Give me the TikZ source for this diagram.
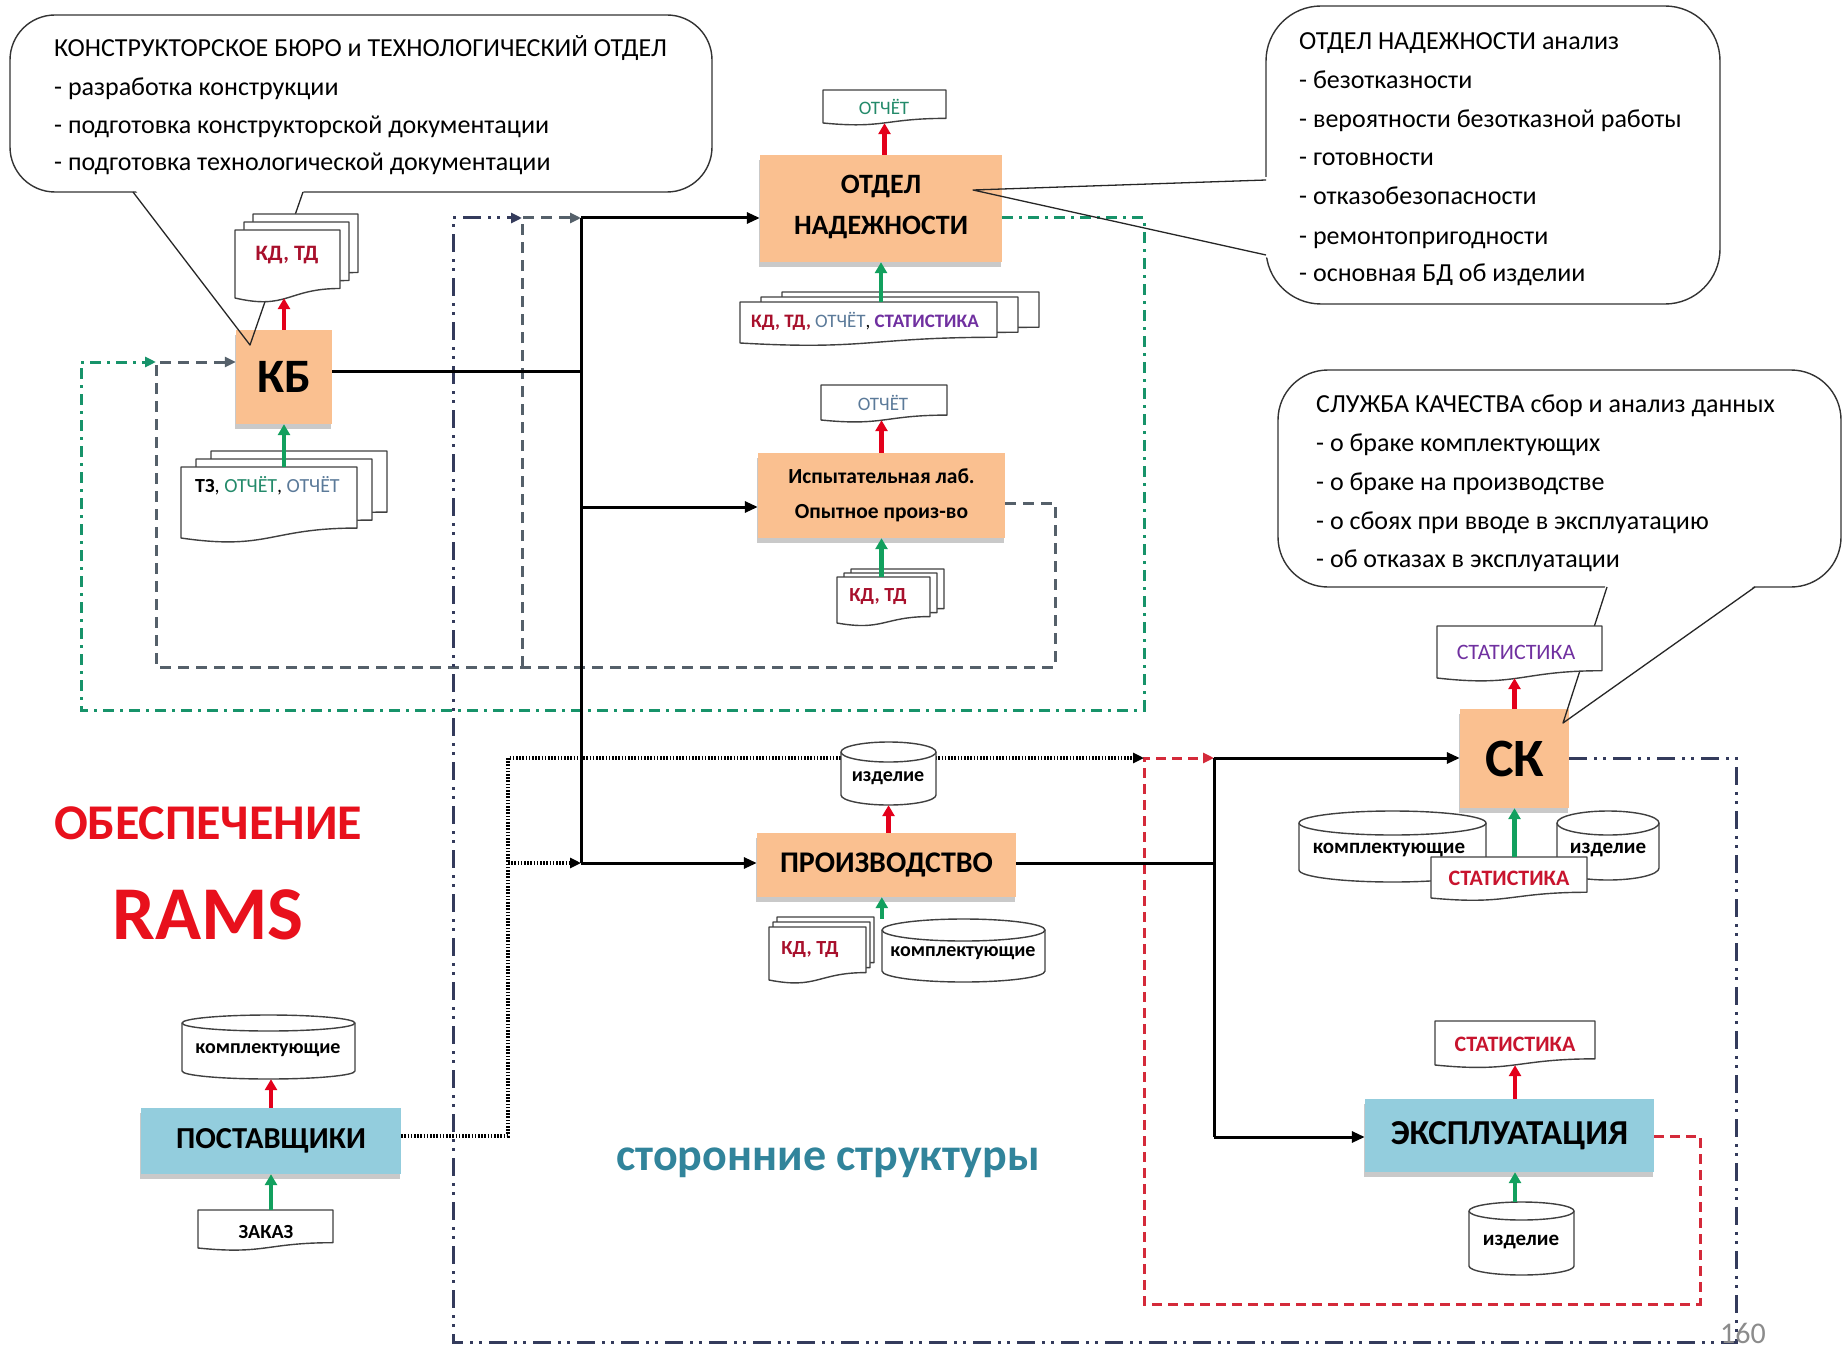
\documentclass[tikz,border=0pt]{standalone}
\usepackage{fontspec}
\setmainfont{Carlito}
\usetikzlibrary{arrows.meta,shadows}

\definecolor{boxorange}{HTML}{FAC090}
\definecolor{boxblue}{HTML}{93CDDD}
\definecolor{docred}{HTML}{A8102C}
\definecolor{statred}{HTML}{C8142E}
\definecolor{statpurple}{HTML}{7030A0}
\definecolor{repgreen}{HTML}{238A6A}
\definecolor{repblue}{HTML}{5B7A99}
\definecolor{arrred}{HTML}{E3001B}
\definecolor{arrgreen}{HTML}{12A05E}
\definecolor{loopgreen}{HTML}{17936A}
\definecolor{loopgray}{HTML}{55606A}
\definecolor{loopnavy}{HTML}{343B5C}
\definecolor{loopred}{HTML}{D42A3A}
\definecolor{titlered}{HTML}{E8101C}
\definecolor{outerteal}{HTML}{31849B}

\newcommand\fsz[1]{\fontsize{#1pt}{#1pt}\selectfont}

\pgfdeclarelayer{bg}
\pgfdeclarelayer{conn}
\pgfsetlayers{bg,conn,main}

% document symbol with a wavy lower edge
\newcommand\docshape[4]{%
  \pgfmathsetmacro\dR{#2+0.86*(#4-#2)}%
  \pgfmathsetmacro\dC{#2+1.18*(#4-#2)}%
  \pgfmathsetmacro\dM{(#1+#3)/2}%
  \filldraw[docline] (#1,#2) -- (#3,#2) -- (#3,\dR)
    .. controls (\dM,\dR) and (\dM,\dC) .. (#1,#4) -- cycle;}
\newcommand\docnode[5]{%
  \docshape{#2}{#3}{#4}{#5}%
  \pgfmathsetmacro\dW{#4-#2}\pgfmathsetmacro\dH{#5-#3}%
  \node[inner sep=0pt, minimum width=\dW pt, minimum height=\dH pt] (#1)
    at ({(#2+#4)/2},{(#3+#5)/2}) {};}
\newcommand\docstack[7]{%
  \begin{scope}[shift={(2*#6,2*#7)}]\docshape{#2}{#3}{#4}{#5}\end{scope}%
  \begin{scope}[shift={(#6,#7)}]\docshape{#2}{#3}{#4}{#5}\end{scope}%
  \docnode{#1}{#2}{#3}{#4}{#5}}
% storage cylinder
\newcommand\cylnode[6]{%
  \pgfmathsetmacro\cR{(#4-#2)/2}%
  \filldraw[docline] (#2,#3+#6) -- (#2,#5-#6)
    arc[start angle=180, end angle=360, x radius=\cR pt, y radius=#6 pt]
    -- (#4,#3+#6)
    arc[start angle=0, end angle=180, x radius=\cR pt, y radius=#6 pt] -- cycle;
  \draw[docline, fill=none] (#2,#3+#6)
    arc[start angle=180, end angle=360, x radius=\cR pt, y radius=#6 pt];
  \pgfmathsetmacro\dW{#4-#2}\pgfmathsetmacro\dH{#5-#3}%
  \node[inner sep=0pt, minimum width=\dW pt, minimum height=\dH pt] (#1)
    at ({(#2+#4)/2},{(#3+#5)/2}) {};}

\tikzset{
  proc/.style={fill=boxorange, inner sep=0pt, align=center, font=\bfseries,
    drop shadow={shadow xshift=-1pt, shadow yshift=-5pt, fill=black!35, opacity=0.6}},
  bluebox/.style={proc, fill=boxblue},
  docline/.style={draw=black!75, line width=1.4pt, fill=white},
  notebox/.style={draw=black!80, line width=1.4pt, fill=white, rounded corners=45pt, inner sep=0pt},
  pointer/.style={draw=black!85, line width=1.3pt},
  note/.style={anchor=west, inner sep=0pt, font=\fsz{26}, text height=16pt, text depth=0pt},
  dtext/.style={inner sep=0pt, font=\fsz{20}},
  conn/.style={line width=3pt, draw=black},
  tip/.style={-{Triangle[length=13pt,width=11pt]}},
  ltip/.style={-{Triangle[length=11pt,width=10pt]}},
  dotconn/.style={line width=3.4pt, draw=black, dash pattern=on 1.6pt off 1.6pt},
  greenloop/.style={line width=3pt, draw=loopgreen, dash pattern=on 11pt off 6pt on 3pt off 6pt},
  grayloop/.style={line width=3pt, draw=loopgray, dash pattern=on 11pt off 7pt},
  navyloop/.style={line width=3pt, draw=loopnavy, dash pattern=on 18pt off 7pt on 3pt off 6pt on 3pt off 7pt},
  redloop/.style={line width=3pt, draw=loopred, dash pattern=on 10pt off 6pt},
  redup/.style={draw=arrred, line width=4.5pt, -{Triangle[length=11pt,width=12pt]}},
  greenup/.style={draw=arrgreen, line width=4.5pt, -{Triangle[length=11pt,width=12pt]}},
}

\begin{document}
\begin{tikzpicture}[x=1pt, y=-1pt, line join=round]
\useasboundingbox (0,0) rectangle (1843,1348);

% ---------- callout bodies ----------
\begin{pgfonlayer}{bg}
  \fill[white] (0,0) rectangle (1843,1348);
  \node[notebox, minimum width=702pt, minimum height=177pt] (kbnote) at (361,103.5) {};
  \fill[white] (133,187) -- (250,345) -- (305,187) -- cycle;
  \node[notebox, rounded corners=55pt, minimum width=454pt, minimum height=298pt] (onnote) at (1493,155) {};
  \fill[white] (1269,177) -- (973,190) -- (1269,258) -- cycle;
  \begin{scope}
    \clip (0,0) rectangle (1843,1348);
    \node[notebox, rounded corners=50pt, minimum width=563pt, minimum height=217pt] (sknote) at (1559.5,478.5) {};
  \end{scope}
  \fill[white] (1606,584) -- (1563,723) -- (1757,584) -- cycle;
\end{pgfonlayer}

% ---------- callout texts ----------
\node[note] (kbn1) at (54,49) {КОНСТРУКТОРСКОЕ БЮРО и ТЕХНОЛОГИЧЕСКИЙ ОТДЕЛ};
\node[note] (kbn2) at (54,88) {- разработка конструкции};
\node[note] (kbn3) at (54,126) {- подготовка конструкторской документации};
\node[note] (kbn4) at (54,163) {- подготовка технологической документации};

\node[note] (onn1) at (1299,42) {ОТДЕЛ НАДЕЖНОСТИ анализ};
\node[note] (onn2) at (1299,81) {- безотказности};
\node[note] (onn3) at (1299,120) {- вероятности безотказной работы};
\node[note] (onn4) at (1299,158) {- готовности};
\node[note] (onn5) at (1299,197) {- отказобезопасности};
\node[note] (onn6) at (1299,236) {- ремонтопригодности};
\node[note] (onn7) at (1299,273) {- основная БД об изделии};

\node[note] (skn1) at (1316,404) {СЛУЖБА КАЧЕСТВА сбор и анализ данных};
\node[note] (skn2) at (1316,443) {- о браке комплектующих};
\node[note] (skn3) at (1316,482) {- о браке на производстве};
\node[note] (skn4) at (1316,521) {- о сбоях при вводе в эксплуатацию};
\node[note] (skn5) at (1316,559) {- об отказах в эксплуатации};

% ---------- process boxes ----------
\node[proc, minimum width=96pt, minimum height=94pt, font=\bfseries\fsz{48}] (KB) at (284,377) {КБ};
\node[proc, minimum width=242pt, minimum height=107pt, font=\bfseries\fontsize{28pt}{41pt}\selectfont] (ON) at (881,208.5) {ОТДЕЛ\\НАДЕЖНОСТИ\rule[-7pt]{0pt}{1pt}};
\node[proc, minimum width=247pt, minimum height=85pt, font=\bfseries\fontsize{21.5pt}{35pt}\selectfont] (IL) at (881.5,495.5) {Испытательная лаб.\\Опытное произ-во};
\node[proc, minimum width=259pt, minimum height=64pt, font=\bfseries\fsz{30}] (PR) at (886.5,865) {ПРОИЗВОДСТВО};
\node[proc, minimum width=109pt, minimum height=99pt, font=\bfseries\fsz{54}] (SK) at (1514.5,758.5) {СК};
\node[bluebox, minimum width=289pt, minimum height=73pt, font=\bfseries\fsz{35}] (EX) at (1509.5,1135.5) {ЭКСПЛУАТАЦИЯ};
\node[bluebox, minimum width=260pt, minimum height=66pt, font=\bfseries\fsz{30.5}] (PS) at (271,1141) {ПОСТАВЩИКИ};

% ---------- callout pointers ----------
\draw[pointer] (133,192) -- (250,345) -- (303,192);
\draw[pointer] (1266,180) -- (973,190) -- (1266,255);
\draw[pointer] (1607,587) -- (1563,723) -- (1755,587);

% ---------- junctions ----------
\coordinate (bT) at (581,218);
\coordinate (bK) at (581,371);
\coordinate (bI) at (581,507);
\coordinate (bP) at (581,863);
\coordinate (rT) at (1214,758);
\coordinate (rP) at (1214,863);
\coordinate (rE) at (1214,1137);
\coordinate (dA) at (508,1136);
\coordinate (dT) at (508,758);
\coordinate (dP) at (508,863);
\coordinate (rdJ) at (1144,758);
\coordinate (rd1) at (1700,1136);
\coordinate (rd2) at (1700,1304);
\coordinate (rd3) at (1144,1304);
\coordinate (nv1) at (1736,758);
\coordinate (nv2) at (1736,1342);
\coordinate (nv3) at (453,1342);
\coordinate (nv4) at (453,218);
\coordinate (nvJ) at (522,218);
\coordinate (gy1) at (1055,503);
\coordinate (gy2) at (1055,667);
\coordinate (gy3) at (156,667);
\coordinate (gyJ) at (156,362);
\coordinate (gyB) at (522,667);
\coordinate (gn1) at (1144,218);
\coordinate (gn2) at (1144,710);
\coordinate (gn3) at (81,710);
\coordinate (gn4) at (81,362);

% ---------- connectors ----------
\begin{pgfonlayer}{conn}
  \draw[greenloop, ltip] (ON.east |- gn1) -- (gn1) -- (gn2) -- (gn3) -- (gn4) -- (gyJ);
  \draw[grayloop, ltip] (IL.east |- gy1) -- (gy1) -- (gy2) -- (gy3) -- (gyJ) -- (KB.west |- gyJ);
  \draw[grayloop, ltip] (gyB) -- (nvJ) -- (bT);
  \draw[navyloop, ltip] (SK.east |- nv1) -- (nv1) -- (nv2) -- (nv3) -- (nv4) -- (nvJ);
  \draw[redloop, ltip] (EX.east |- rd1) -- (rd1) -- (rd2) -- (rd3) -- (rdJ) -- (rT);

  \draw[conn] (KB.east |- bK) -- (bK);
  \draw[conn] (bT) -- (bP);
  \draw[conn, tip] (bT) -- (ON.west |- bT);
  \draw[conn, tip] (bI) -- (IL.west |- bI);
  \draw[conn, tip] (bP) -- (PR.west |- bP);
  \draw[conn] (PR.east |- rP) -- (rP);
  \draw[conn] (rT) -- (rE);
  \draw[conn, tip] (rT) -- (SK.west |- rT);
  \draw[conn, tip] (rE) -- (EX.west |- rE);

  \draw[dotconn, ltip] (PS.east |- dA) -- (dA) -- (dT) -- (rdJ);
  \draw[dotconn, ltip] (dP) -- (bP);
\end{pgfonlayer}

% ---------- documents and stores ----------
\docstack{kbout}{235}{230}{340}{298}{9}{-8}
\docstack{kbin}{181}{467}{357}{538}{15}{-8}
\docnode{onout}{823}{90}{946}{123}
\docstack{onin}{740}{302}{997}{343}{21}{-5}
\docnode{ilout}{821}{385}{947}{420}
\docstack{ilin}{837}{577}{930}{623}{7}{-4}
\docstack{prin}{769}{927}{866}{980}{4}{-5}
\cylnode{prout}{841}{742}{936}{805}{10}
\cylnode{prc}{882}{919}{1045}{982}{11}
\docnode{skout}{1437}{626}{1602}{678}
\cylnode{skc1}{1299}{811}{1486}{882}{12}
\cylnode{skc2}{1557}{811}{1659}{880}{12}
\docnode{skin}{1431}{857}{1587}{898}
\docnode{exout}{1435}{1021}{1595}{1065}
\cylnode{exin}{1469}{1202}{1574}{1275}{9}
\cylnode{psout}{182}{1015}{355}{1079}{8}
\docnode{psin}{198}{1210}{333}{1248}

% ---------- labels of documents and stores ----------
\node[dtext, text=docred, font=\bfseries\fsz{22}] (kbout-t) at (287,255) {КД, ТД};
\node[dtext, anchor=west, font=\fsz{20}] (kbin-t) at (195,486) {\textbf{ТЗ}, \textcolor{repgreen}{ОТЧЁТ}, \textcolor{repblue}{ОТЧЁТ}};
\node[dtext, text=repgreen, font=\fsz{19}] (onout-t) at (884,107) {ОТЧЁТ};
\node[dtext, anchor=west, font=\fsz{19}] (onin-t) at (751,321) {\textcolor{docred}{\textbf{КД, ТД,}} \textcolor{repblue}{ОТЧЁТ}, \textcolor{statpurple}{\textbf{СТАТИСТИКА}}};
\node[dtext, text=repblue, font=\fsz{19}] (ilout-t) at (883,403) {ОТЧЁТ};
\node[dtext, text=docred, font=\bfseries\fsz{20}] (ilin-t) at (878,597) {КД, ТД};
\node[dtext, text=docred, font=\bfseries\fsz{20}] (prin-t) at (810,950) {КД, ТД};
\node[dtext, font=\bfseries\fsz{20}] (prout-t) at (888,778) {изделие};
\node[dtext, font=\bfseries\fsz{20}] (prc-t) at (963,953) {комплектующие};
\node[dtext, text=statpurple, font=\fsz{22}] (skout-t) at (1516,652) {СТАТИСТИКА};
\node[dtext, font=\bfseries\fsz{21}] (skc1-t) at (1389,850) {комплектующие};
\node[dtext, font=\bfseries\fsz{21}] (skc2-t) at (1608,850) {изделие};
\node[dtext, text=statred, font=\bfseries\fsz{22}] (skin-t) at (1509,878) {СТАТИСТИКА};
\node[dtext, text=statred, font=\bfseries\fsz{22}] (exout-t) at (1515,1044) {СТАТИСТИКА};
\node[dtext, font=\bfseries\fsz{21}] (exin-t) at (1521,1242) {изделие};
\node[dtext, font=\bfseries\fsz{20}] (psout-t) at (268,1050) {комплектующие};
\node[dtext, font=\bfseries\fsz{20}] (psin-t) at (266,1232) {ЗАКАЗ};

% ---------- inputs and outputs of the boxes ----------
\draw[redup] (KB.north) -- (KB.north |- kbout.south);
\draw[greenup] (KB.south |- kbin.north) -- (KB.south);
\draw[redup] (onout.south |- ON.north) -- (onout.south);
\draw[greenup] (ON.south |- onin.north) -- (ON.south);
\draw[redup] (IL.north) -- (IL.north |- ilout.south);
\draw[greenup] (IL.south |- ilin.north) -- (IL.south);
\draw[redup] (prout.south |- PR.north) -- (prout.south);
\draw[greenup] (prc.north west) -- (prc.north west |- PR.south);
\draw[redup] (SK.north) -- (SK.north |- skout.south);
\draw[greenup] (SK.south |- skin.north) -- (SK.south);
\draw[redup] (exout.south |- EX.north) -- (exout.south);
\draw[greenup] (exout.south |- exin.north) -- (exout.south |- EX.south);
\draw[redup] (PS.north) -- (PS.north |- psout.south);
\draw[greenup] (PS.south |- psin.north) -- (PS.south);

% ---------- headings ----------
\node[font=\bfseries\fsz{50}, text=titlered] (t1) at (208,823) {ОБЕСПЕЧЕНИЕ};
\node[font=\bfseries\fsz{76}, text=titlered] (t2) at (208,915) {RAMS};
\node[font=\bfseries\fsz{46}, text=outerteal] (t3) at (828,1163) {сторонние структуры};
\node[font=\fsz{30}, text=black!45] (pg) at (1743,1333) {160};
\end{tikzpicture}
\end{document}
